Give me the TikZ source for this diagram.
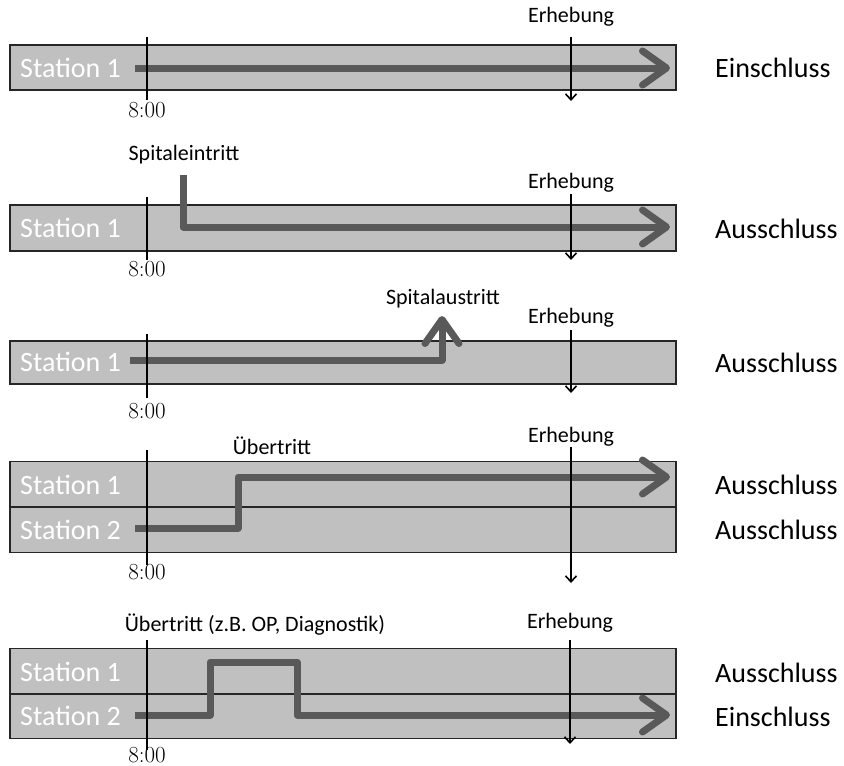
\documentclass[tikz,border=0pt]{standalone}
\usepackage{fontspec}
\newfontfamily\calfont{Carlito}
\usetikzlibrary{arrows.meta}
\definecolor{boxgray}{HTML}{C0C0C0}
\definecolor{pathgray}{HTML}{595959}
\begin{document}
\begin{tikzpicture}[x=1pt,y=-1pt,
  lane/.style={draw=black!85,line width=1.2pt,fill=boxgray,inner sep=0pt,minimum width=666pt},
  stationlbl/.style={text=white,font=\calfont\fontsize{28}{30}\selectfont,anchor=west,inner sep=0pt},
  resultlbl/.style={font=\calfont\fontsize{28}{30}\selectfont,anchor=west,inner sep=0pt},
  smalllbl/.style={font=\calfont\fontsize{22}{24}\selectfont,inner sep=0pt},
  timelbl/.style={font=\fontsize{23}{25}\selectfont,inner sep=0pt},
  course/.style={draw=pathgray,line width=7pt,line join=round},
  coursearrow/.style={course,-{Straight Barb[length=24pt,width=34pt,line cap=round,round]}},
  timeline/.style={draw=black,line width=1.8pt},
  surveyline/.style={draw=black,line width=1.6pt,-{Straight Barb[length=6pt,width=11pt]}}
]
\useasboundingbox (0,0) rectangle (844,766);

% ---------------- Panel 1
\node[lane,minimum height=45pt] (b1) at (343,67.5) {};
\node[stationlbl] (p1s1) at (20,68) {Station 1};
\coordinate (p1a) at (135,68);
\coordinate (p1z) at (670,68);
\draw[coursearrow] (p1a) -- (p1z);
\coordinate (t1a) at (147,37); \coordinate (t1b) at (147,100);
\draw[timeline] (t1a) -- (t1b);
\node[timelbl] (t1) at (147,110) {8:00};
\node[smalllbl] (e1) at (571,17) {Erhebung};
\coordinate (e1a) at (571,37); \coordinate (e1b) at (571,101);
\draw[surveyline] (e1a) -- (e1b);
\node[resultlbl] (r1) at (715,68) {Einschluss};

% ---------------- Panel 2
\node[lane,minimum height=46pt] (b2) at (343,228) {};
\node[stationlbl] (p2s1) at (20,228) {Station 1};
\node[smalllbl] (l2) at (184,155) {Spitaleintritt};
\coordinate (p2a) at (183,175);
\coordinate (p2b) at (183,227);
\coordinate (p2z) at (670,227);
\draw[coursearrow] (p2a) -- (p2b) -- (p2z);
\coordinate (t2a) at (147,197); \coordinate (t2b) at (147,260);
\draw[timeline] (t2a) -- (t2b);
\node[timelbl] (t2) at (147,269) {8:00};
\node[smalllbl] (e2) at (571,183) {Erhebung};
\coordinate (e2a) at (571,194); \coordinate (e2b) at (571,260);
\draw[surveyline] (e2a) -- (e2b);
\node[resultlbl] (r2) at (715,229) {Ausschluss};

% ---------------- Panel 3
\node[lane,minimum height=43pt] (b3) at (343,362.5) {};
\node[stationlbl] (p3s1) at (20,362) {Station 1};
\node[smalllbl] (l3) at (443,299) {Spitalaustritt};
\coordinate (p3a) at (130,360);
\coordinate (p3b) at (442,360);
\coordinate (p3z) at (442,316);
\draw[coursearrow] (p3a) -- (p3b) -- (p3z);
\coordinate (t3a) at (147,334); \coordinate (t3b) at (147,398);
\draw[timeline] (t3a) -- (t3b);
\node[timelbl] (t3) at (147,411) {8:00};
\node[smalllbl] (e3) at (571,318) {Erhebung};
\coordinate (e3a) at (571,330); \coordinate (e3b) at (571,393);
\draw[surveyline] (e3a) -- (e3b);
\node[resultlbl] (r3) at (715,363) {Ausschluss};

% ---------------- Panel 4
\node[lane,minimum height=45pt,anchor=south] (b4a) at (343,507) {};
\node[lane,minimum height=45pt,anchor=north] (b4b) at (343,507) {};
\node[stationlbl] (p4s1) at (20,485) {Station 1};
\node[stationlbl] (p4s2) at (20,530) {Station 2};
\node[smalllbl] (l4) at (272,446) {Übertritt};
\coordinate (p4a) at (135,528);
\coordinate (p4b) at (238,528);
\coordinate (p4c) at (238,477);
\coordinate (p4z) at (670,477);
\draw[coursearrow] (p4a) -- (p4b) -- (p4c) -- (p4z);
\coordinate (t4a) at (147,450); \coordinate (t4b) at (147,565);
\draw[timeline] (t4a) -- (t4b);
\node[timelbl] (t4) at (147,572) {8:00};
\node[smalllbl] (e4) at (571,437) {Erhebung};
\coordinate (e4a) at (571,447); \coordinate (e4b) at (571,583);
\draw[surveyline] (e4a) -- (e4b);
\node[resultlbl] (r4a) at (715,485) {Ausschluss};
\node[resultlbl] (r4b) at (715,530) {Ausschluss};

% ---------------- Panel 5
\node[lane,minimum height=45pt,anchor=south] (b5a) at (343,694) {};
\node[lane,minimum height=44pt,anchor=north] (b5b) at (343,694) {};
\node[stationlbl] (p5s1) at (20,672) {Station 1};
\node[stationlbl] (p5s2) at (20,716) {Station 2};
\node[smalllbl] (l5) at (255,625) {Übertritt (z.B. OP, Diagnostik)};
\coordinate (p5a) at (135,715);
\coordinate (p5b) at (210,715);
\coordinate (p5c) at (210,662);
\coordinate (p5d) at (297,662);
\coordinate (p5e) at (297,715);
\coordinate (p5z) at (670,715);
\draw[coursearrow] (p5a) -- (p5b) -- (p5c) -- (p5d) -- (p5e) -- (p5z);
\coordinate (t5a) at (147,640); \coordinate (t5b) at (147,750);
\draw[timeline] (t5a) -- (t5b);
\node[timelbl] (t5) at (147,755) {8:00};
\node[smalllbl] (e5) at (570,623) {Erhebung};
\coordinate (e5a) at (570,640); \coordinate (e5b) at (570,744);
\draw[surveyline] (e5a) -- (e5b);
\node[resultlbl] (r5a) at (715,673) {Ausschluss};
\node[resultlbl] (r5b) at (715,717) {Einschluss};
\end{tikzpicture}
\end{document}
